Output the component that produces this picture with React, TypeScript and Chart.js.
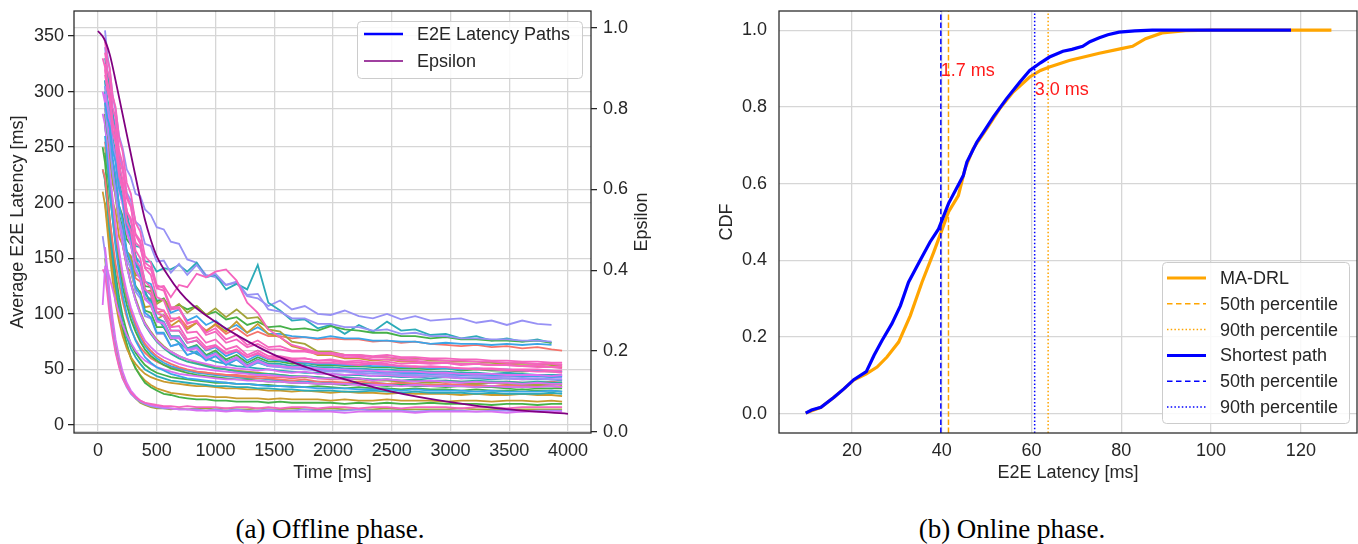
import React, { useEffect, useRef } from 'react';
import { Chart, registerables } from 'chart.js';

Chart.register(...registerables);

const FONT = '"Liberation Sans", Arial, Helvetica, sans-serif';
const TEXT = '#262626';
const GRID = '#d6d6d6';

// ================= (a) Offline phase =================
const TIME_MS = [40, 60, 80, 100, 125, 150, 180, 210, 245, 280, 320, 360, 400, 450, 500, 560, 620, 690, 760, 840, 920, 1000, 1090, 1180, 1270, 1360, 1450, 1550, 1650, 1760, 1870, 1980, 2100, 2220, 2340, 2460, 2580, 2700, 2830, 2960, 3090, 3220, 3350, 3480, 3610, 3740, 3860, 3950];

// upper outlier paths
const LAT_A1 = [null, 355, 333, 320, 296, 283, 260, 249, 230, 223, 208, 206, 194, 189, 178, 176, 165, 163, 149, 146, 135, 133, 126, 128, 116, 114, 107, 112, 104, 107, 100, 99, 103, 98, 96, 100, 95, 98, 94, 95, 96, 92, 94, 90, 94, 91, 90, null];
const LAT_A2 = [null, 305, 288, 275, 250, 238, 214, 203, 184, 178, 161, 160, 147, 147, 138, 141, 140, 144, 138, 146, 133, 135, 122, 127, 122, 144, 110, 103, 94, 95, 87, 90, 82, 90, 84, 93, 85, 86, 81, 82, 78, 80, 76, 78, 75, 77, 74, null];
const LAT_A3 = [null, 320, 302, 292, 264, 254, 226, 216, 192, 186, 164, 160, 142, 140, 124, 125, 115, 126, 124, 136, 133, 138, 140, 130, 110, 101, 86, 79, 72, 69, 65, 64, 61, 61, 59, 59, 58, 58, 56, 56, 55, 55, 54, 54, 53, 52, 52, 51];
const LAT_A4 = [null, 290, 270, 258, 233, 222, 197, 188, 167, 162, 143, 140, 125, 124, 111, 114, 104, 108, 104, 107, 99, 102, 95, 97, 90, 93, 88, 89, 86, 87, 85, 89, 86, 85, 83, 83, 80, 80, 78, 79, 77, 77, 76, 76, 75, 76, 74, null];
const LAT_A5 = [null, 310, 291, 280, 252, 240, 212, 202, 179, 171, 151, 146, 129, 127, 112, 113, 101, 104, 94, 98, 90, 94, 86, 90, 83, 88, 82, 82, 80, 79, 78, 80, 78, 78, 76, 76, 75, 75, 73, 74, 73, 73, 72, 73, 72, 73, 72, null];
const LAT_A6 = [null, 280, 260, 247, 221, 210, 185, 176, 155, 150, 132, 129, 114, 114, 101, 103, 93, 97, 88, 92, 85, 90, 82, 87, 80, 84, 80, 80, 78, 79, 77, 78, 77, 77, 75, 76, 74, 75, 73, 72, 71, 72, 70, 71, 69, 70, 68, 67];
const LAT_A7 = [null, 340, 319, 307, 281, 268, 242, 232, 209, 202, 183, 179, 163, 161, 147, 148, 137, 145, 135, 144, 133, 136, 126, 129, 117, 118, 104, 102, 96, 96, 91, 91, 88, 88, 85, 86, 82, 83, 80, 80, 78, 78, 77, 77, 76, 76, 75, null];
const LAT_A8 = [null, 270, 251, 241, 217, 207, 184, 176, 156, 152, 135, 134, 120, 121, 109, 113, 104, 109, 101, 107, 99, 105, 97, 104, 96, 97, 86, 84, 75, 73, 66, 66, 63, 63, 61, 61, 59, 60, 58, 58, 57, 57, 56, 55, 55, 55, 54, 54];
const LAT_A9 = [null, 250, 232, 223, 201, 192, 169, 162, 142, 138, 121, 120, 106, 107, 95, 99, 89, 94, 86, 92, 84, 91, 84, 93, 83, 91, 82, 79, 71, 68, 63, 63, 60, 60, 58, 59, 57, 57, 56, 56, 55, 55, 54, 55, 53, 53, 52, 52];

// dense band paths
const LAT_B1 = [330, 322, 302, 294, 266, 254, 224, 211, 183, 174, 148, 142, 122, 118, 101, 98, 85, 85, 74, 76, 68, 71, 64, 67, 61, 64, 60, 61, 59, 60, 58, 59, 57, 58, 56, 57, 55, 56, 55, 56, 54, 55, 54, 54, 53, 54, 52, 53];
const LAT_B2 = [300, 290, 272, 252, 230, 207, 184, 162, 143, 127, 112, 100, 91, 83, 76, 70, 66, 62, 59, 57, 55, 53, 52, 51, 50, 49, 50, 48, 47, 48, 46, 46, 45, 46, 44, 45, 44, 43, 44, 43, 42, 43, 42, 42, 41, 42, 41, 41];
const LAT_B3 = [null, 300, 281, 268, 240, 225, 197, 183, 157, 146, 124, 117, 101, 97, 83, 83, 71, 73, 63, 66, 58, 62, 54, 59, 52, 56, 53, 53, 51, 52, 50, 50, 49, 49, 48, 48, 47, 47, 46, 47, 45, 46, 45, 45, 44, 44, 43, 44];
const LAT_B4 = [250, 236, 212, 186, 160, 136, 115, 98, 84, 73, 65, 59, 54, 50, 47, 45, 43, 42, 41, 40, 39, 38, 38, 37, 37, 36, 36, 35, 35, 34, 35, 34, 33, 34, 33, 33, 32, 33, 32, 32, 31, 32, 31, 31, 32, 31, 31, 30];
const LAT_B5 = [null, 310, 293, 283, 258, 245, 218, 204, 179, 168, 145, 136, 118, 112, 96, 93, 80, 80, 69, 71, 62, 65, 57, 61, 54, 59, 55, 55, 53, 54, 52, 52, 51, 51, 50, 50, 49, 49, 48, 48, 47, 47, 46, 47, 46, 45, 45, 45];
const LAT_B6 = [230, 222, 204, 185, 164, 145, 127, 111, 97, 86, 77, 70, 65, 60, 57, 54, 52, 50, 49, 48, 47, 46, 45, 45, 44, 44, 43, 43, 42, 43, 42, 41, 41, 42, 40, 41, 40, 40, 39, 40, 39, 39, 38, 39, 38, 38, 39, 38];
const LAT_B7 = [null, 345, 329, 321, 296, 286, 258, 246, 218, 208, 182, 174, 152, 146, 126, 123, 106, 106, 92, 93, 81, 84, 74, 77, 70, 73, 68, 68, 66, 66, 64, 65, 63, 63, 62, 63, 61, 61, 60, 60, 59, 59, 58, 58, 57, 57, 56, 56];
const LAT_B8 = [null, 285, 265, 253, 226, 212, 186, 173, 150, 140, 120, 114, 98, 96, 82, 82, 71, 73, 63, 66, 58, 62, 54, 59, 52, 57, 53, 52, 51, 51, 50, 49, 49, 48, 48, 47, 47, 46, 46, 45, 45, 45, 44, 44, 43, 44, 43, 43];
const LAT_B9 = [210, 198, 176, 153, 130, 110, 93, 80, 69, 61, 55, 50, 46, 43, 41, 39, 38, 37, 36, 35, 35, 34, 33, 33, 32, 32, 31, 31, 30, 31, 30, 29, 30, 29, 29, 28, 29, 28, 28, 28, 27, 28, 27, 27, 28, 27, 27, 26];
const LAT_B10 = [null, 300, 280, 258, 234, 210, 186, 164, 144, 127, 112, 100, 90, 82, 75, 69, 64, 60, 57, 55, 53, 51, 50, 48, 47, 46, 46, 45, 44, 44, 43, 42, 43, 42, 41, 41, 40, 41, 40, 40, 39, 40, 39, 39, 38, 39, 38, 38];
const LAT_B11 = [null, 325, 309, 299, 273, 262, 233, 221, 193, 183, 157, 150, 129, 124, 105, 103, 88, 89, 77, 79, 70, 72, 65, 68, 61, 65, 60, 59, 58, 57, 56, 56, 55, 54, 55, 54, 53, 52, 53, 52, 51, 51, 51, 50, 50, 50, 49, 49];
const LAT_B12 = [280, 270, 250, 228, 204, 180, 157, 137, 120, 106, 94, 84, 76, 70, 65, 61, 58, 55, 53, 51, 50, 49, 48, 47, 46, 45, 45, 44, 43, 44, 42, 42, 41, 42, 40, 41, 40, 39, 40, 39, 38, 39, 38, 38, 37, 38, 37, 37];
const LAT_B13 = [null, 270, 248, 224, 198, 174, 151, 131, 114, 100, 88, 78, 71, 65, 60, 56, 53, 51, 49, 47, 46, 45, 44, 43, 42, 42, 41, 40, 40, 39, 39, 38, 38, 37, 38, 37, 36, 37, 36, 36, 35, 36, 35, 35, 36, 35, 35, 34];
const LAT_B14 = [null, 245, 228, 208, 186, 164, 143, 124, 108, 95, 84, 75, 68, 62, 58, 54, 51, 49, 47, 45, 44, 43, 42, 41, 41, 40, 39, 39, 38, 38, 37, 37, 36, 37, 36, 35, 36, 35, 35, 34, 35, 34, 34, 33, 34, 33, 33, 33];
const LAT_B15 = [null, 335, 319, 311, 286, 276, 247, 235, 207, 197, 171, 163, 141, 135, 115, 112, 96, 96, 83, 84, 74, 77, 68, 71, 63, 67, 62, 62, 60, 60, 58, 58, 56, 56, 55, 55, 53, 53, 52, 52, 51, 50, 50, 49, 49, 48, 48, 47];
const LAT_B16 = [null, 285, 268, 248, 226, 204, 182, 162, 144, 128, 114, 102, 92, 84, 77, 71, 66, 62, 59, 56, 54, 52, 50, 49, 48, 47, 46, 45, 44, 43, 43, 42, 41, 41, 40, 40, 39, 39, 38, 39, 38, 37, 38, 37, 37, 36, 37, 36];
const LAT_B17 = [null, 255, 238, 218, 196, 174, 153, 134, 117, 103, 91, 81, 73, 67, 62, 58, 55, 52, 50, 48, 47, 46, 45, 44, 43, 42, 42, 41, 40, 41, 39, 39, 38, 39, 38, 37, 38, 37, 36, 37, 36, 36, 35, 36, 35, 35, 35, 34];
const LAT_B18 = [null, 305, 289, 279, 254, 241, 214, 200, 175, 163, 140, 132, 114, 109, 94, 92, 79, 79, 68, 70, 61, 64, 56, 60, 52, 57, 53, 52, 51, 50, 49, 48, 48, 47, 46, 46, 45, 45, 44, 44, 43, 43, 43, 42, 42, 42, 41, 41];
const LAT_B19 = [230, 220, 198, 174, 150, 128, 108, 92, 79, 69, 61, 55, 50, 47, 44, 42, 40, 39, 38, 37, 36, 35, 35, 34, 34, 33, 33, 32, 32, 31, 31, 31, 30, 30, 31, 30, 29, 30, 29, 29, 29, 28, 29, 28, 28, 28, 29, 28];
const LAT_B20 = [108, 142, 140, 132, 122, 111, 100, 90, 81, 74, 67, 62, 58, 55, 52, 50, 48, 46, 45, 44, 43, 42, 41, 41, 40, 40, 39, 39, 38, 38, 37, 37, 37, 36, 36, 36, 35, 36, 35, 35, 35, 34, 35, 34, 34, 34, 35, 34];
const LAT_B21 = [null, 315, 302, 295, 272, 264, 238, 229, 204, 196, 172, 166, 146, 142, 123, 121, 104, 105, 91, 94, 83, 87, 77, 81, 72, 76, 70, 71, 67, 67, 65, 64, 63, 62, 61, 61, 60, 59, 59, 58, 58, 57, 57, 56, 56, 55, 55, 54];
const LAT_B22 = [null, 298, 282, 273, 249, 237, 211, 198, 173, 162, 139, 131, 113, 108, 93, 91, 78, 78, 67, 69, 60, 64, 56, 61, 53, 58, 54, 53, 52, 52, 51, 50, 50, 49, 49, 48, 48, 48, 47, 47, 46, 46, 46, 45, 45, 45, 44, 45];
const LAT_B23 = [null, 290, 276, 269, 247, 237, 213, 202, 179, 169, 147, 140, 122, 117, 101, 98, 85, 85, 74, 76, 67, 70, 62, 66, 58, 63, 59, 58, 57, 56, 55, 55, 54, 54, 53, 53, 52, 52, 51, 51, 50, 51, 50, 50, 49, 49, 49, 48];
const LAT_B24 = [null, 260, 238, 212, 185, 160, 137, 117, 100, 87, 76, 68, 61, 56, 52, 49, 46, 44, 42, 41, 40, 39, 38, 37, 37, 36, 35, 35, 34, 34, 33, 33, 33, 32, 32, 32, 31, 32, 31, 31, 31, 30, 31, 30, 30, 30, 31, 30];
const LAT_B25 = [null, 280, 263, 253, 228, 215, 189, 177, 154, 145, 125, 119, 103, 101, 88, 88, 77, 79, 69, 72, 63, 67, 59, 63, 56, 61, 57, 57, 55, 56, 54, 54, 53, 53, 52, 52, 51, 51, 50, 51, 49, 50, 49, 49, 48, 49, 48, 48];
const LAT_B26 = [null, 330, 316, 300, 280, 259, 236, 214, 192, 172, 153, 136, 121, 108, 97, 88, 80, 74, 68, 64, 60, 57, 55, 53, 52, 51, 50, 49, 48, 47, 47, 46, 45, 45, 44, 44, 43, 43, 42, 43, 42, 42, 41, 42, 41, 41, 41, 40];

// low paths
const LAT_C1 = [null, 200, 182, 162, 140, 120, 101, 85, 71, 60, 51, 45, 40, 36, 33, 31, 29, 28, 27, 26, 26, 25, 25, 24, 24, 24, 23, 24, 23, 23, 23, 22, 23, 22, 22, 23, 22, 22, 22, 21, 22, 22, 21, 22, 22, 21, 22, 21];
const LAT_C2 = [null, 220, 198, 175, 150, 127, 106, 88, 73, 61, 51, 44, 38, 34, 31, 28, 27, 25, 24, 23, 23, 22, 22, 21, 21, 21, 20, 21, 20, 20, 20, 20, 19, 20, 19, 20, 19, 19, 20, 19, 19, 19, 18, 19, 19, 18, 19, 19];
const LAT_C3 = [140, 136, 118, 98, 80, 65, 52, 42, 35, 29, 25, 22, 20, 19, 18, 17, 17, 16, 17, 16, 16, 16, 15, 16, 16, 15, 16, 15, 16, 16, 15, 16, 16, 15, 16, 16, 15, 16, 16, 16, 15, 16, 16, 15, 16, 16, 16, 16];
const LAT_C4 = [170, 155, 130, 106, 85, 67, 53, 42, 34, 28, 24, 21, 19, 17, 16, 15, 15, 14, 14, 14, 13, 14, 13, 14, 13, 13, 14, 13, 13, 14, 13, 13, 13, 14, 13, 13, 13, 12, 13, 13, 13, 12, 13, 13, 12, 13, 13, 13];
const LAT_C5 = [null, 150, 130, 110, 90, 72, 57, 45, 36, 29, 24, 20, 18, 16, 15, 15, 14, 15, 14, 15, 15, 14, 15, 14, 14, 15, 14, 14, 15, 14, 14, 15, 14, 14, 14, 15, 14, 14, 14, 14, 15, 14, 14, 14, 14, 14, 14, 14];
const LAT_C6 = [null, 160, 140, 118, 96, 77, 61, 48, 38, 31, 26, 22, 20, 18, 17, 16, 15, 14, 14, 13, 13, 13, 12, 13, 12, 12, 13, 12, 12, 12, 12, 12, 11, 12, 12, 12, 12, 11, 12, 12, 12, 12, 12, 11, 12, 12, 12, 12];

// drawing order: first = bottom
const LATENCY_SERIES = [
  LAT_A1, LAT_A2, LAT_A6, LAT_A5, LAT_A4, LAT_A7, LAT_A8, LAT_A9,
  LAT_C1, LAT_C2, LAT_C5, LAT_C4, LAT_C6, LAT_C3,
  LAT_B4, LAT_B9, LAT_B19, LAT_B6, LAT_B13, LAT_B14, LAT_B17, LAT_B16, LAT_B10, LAT_B12,
  LAT_B25, LAT_B26, LAT_B2, LAT_B8, LAT_B3, LAT_B5, LAT_B18, LAT_B22, LAT_B23,
  LAT_A3, LAT_B20, LAT_B1, LAT_B11, LAT_B15, LAT_B21, LAT_B7, LAT_B24,
];

const C_SALMON = '#F5736B';
const C_MUSTARD = '#C99A2E';
const C_OLIVE = '#A3A43A';
const C_GREEN = '#45B048';
const C_TEALGREEN = '#30B09A';
const C_TEAL = '#2CABB8';
const C_BLUE = '#3BA5E8';
const C_LAVENDER = '#9791F5';
const C_VIOLET = '#D970F2';
const C_PINK = '#F565BE';

const LATENCY_COLORS = [
  C_LAVENDER, C_TEAL, C_SALMON, C_BLUE, C_GREEN, C_LAVENDER, C_OLIVE, C_MUSTARD,
  C_MUSTARD, C_GREEN, C_OLIVE, C_LAVENDER, C_VIOLET, C_PINK,
  C_GREEN, C_MUSTARD, C_TEAL, C_SALMON, C_BLUE, C_GREEN, C_SALMON, C_OLIVE, C_TEALGREEN, C_VIOLET,
  C_GREEN, C_TEAL, C_VIOLET, C_LAVENDER, C_BLUE, C_TEAL, C_LAVENDER, C_VIOLET, C_BLUE,
  C_PINK, C_VIOLET, C_PINK, C_PINK, C_PINK, C_PINK, C_PINK, C_BLUE,
];

const EPS_TIME = [0, 50, 100, 150, 200, 250, 300, 350, 400, 450, 500, 600, 700, 800, 1000, 1200, 1500, 1800, 2000, 2500, 3000, 3500, 4000];
const EPS_VALUES = [0.993, 0.975, 0.935, 0.87, 0.80, 0.73, 0.66, 0.59, 0.525, 0.475, 0.435, 0.385, 0.345, 0.315, 0.272, 0.236, 0.19, 0.157, 0.138, 0.099, 0.073, 0.055, 0.044];

const TIME_TICKS = [0, 500, 1000, 1500, 2000, 2500, 3000, 3500, 4000];
const LAT_TICKS = [0, 50, 100, 150, 200, 250, 300, 350];
const EPS_TICKS = [0, 0.2, 0.4, 0.6, 0.8, 1.0];
const LEFT_LEGEND = ['E2E Latency Paths', 'Epsilon'];

// ================= (b) Online phase =================
const SP_LAT = [9.7, 11, 13.1, 16.0, 18.2, 20.4, 23.2, 24.9, 26.7, 28.9, 30.8, 32.6, 35.2, 37.4, 39.3, 41.5, 44.8, 45.6, 47.8, 49.3, 51.5, 54.4, 57.4, 59.6, 62, 64.0, 67.0, 69, 71.4, 73, 75.1, 77, 79.5, 83, 86.9, 95, 105, 117.8];
const SP_CDF = [0.002, 0.01, 0.017, 0.043, 0.065, 0.089, 0.110, 0.152, 0.191, 0.235, 0.282, 0.343, 0.40, 0.448, 0.482, 0.548, 0.621, 0.656, 0.708, 0.734, 0.774, 0.821, 0.865, 0.895, 0.915, 0.93, 0.945, 0.95, 0.958, 0.97, 0.98, 0.988, 0.995, 0.998, 1.0, 1.0, 1.0, 1.0];
const MA_LAT = [9.7, 13.1, 16.0, 18.2, 20.4, 23.2, 25.6, 27.8, 30.4, 33.0, 35.6, 38.2, 39.6, 41.5, 43.7, 45.2, 47.0, 50.0, 52.9, 55.9, 59.6, 62, 64, 68.4, 75.1, 80, 82.5, 85.4, 89.1, 94.3, 100.1, 110, 126.8];
const MA_CDF = [0.002, 0.017, 0.043, 0.065, 0.088, 0.104, 0.122, 0.148, 0.187, 0.256, 0.343, 0.421, 0.465, 0.526, 0.569, 0.639, 0.691, 0.743, 0.795, 0.839, 0.878, 0.895, 0.904, 0.921, 0.94, 0.952, 0.958, 0.978, 0.993, 0.999, 1.0, 1.0, 1.0];
const MA_P50 = 41.5;
const MA_P90 = 63.7;
const SP_P50 = 39.8;
const SP_P90 = 60.7;
const GAP_LABELS = ['1.7 ms', '3.0 ms'];
const GAP_LABEL_Y = [0.88, 0.83];
const LAT_CDF_TICKS = [20, 40, 60, 80, 100, 120];
const CDF_TICKS = [0, 0.2, 0.4, 0.6, 0.8, 1.0];
const RIGHT_LEGEND = ['MA-DRL', '50th percentile', '90th percentile', 'Shortest path', '50th percentile', '90th percentile'];

const C_ORANGE = '#FFA500';
const C_PURE_BLUE = '#0000FF';
const C_EPS = '#800080';

// ================= helpers =================
const font18 = { family: FONT, size: 18 };

function fixedTicks(values: number[]) {
  return (scale: any) => {
    scale.ticks = values.map((v) => ({ value: v }));
  };
}

function fitVertical(width: number) {
  return (s: any) => {
    s.width = width;
    s.paddingTop = 0;
    s.paddingBottom = 0;
  };
}

function fitHorizontal(height: number) {
  return (s: any) => {
    s.height = height;
    s.paddingLeft = 0;
    s.paddingRight = 0;
  };
}

type LegendItem = { label: string; color: string; width: number; dash: number[] };

function drawLegend(ctx: CanvasRenderingContext2D, x: number, y: number, w: number, h: number, items: LegendItem[], firstRow: number, rowGap: number, lineX0: number, lineX1: number, textX: number) {
  ctx.save();
  ctx.beginPath();
  (ctx as any).roundRect(x + 0.5, y + 0.5, w, h, 4);
  ctx.fillStyle = 'rgba(255,255,255,0.85)';
  ctx.fill();
  ctx.strokeStyle = '#cccccc';
  ctx.lineWidth = 1;
  ctx.stroke();
  items.forEach((it, i) => {
    const ry = y + firstRow + i * rowGap;
    ctx.beginPath();
    ctx.setLineDash(it.dash);
    ctx.strokeStyle = it.color;
    ctx.lineWidth = it.width;
    ctx.moveTo(x + lineX0, ry);
    ctx.lineTo(x + lineX1, ry);
    ctx.stroke();
    ctx.setLineDash([]);
    ctx.fillStyle = TEXT;
    ctx.font = `18px ${FONT}`;
    ctx.textAlign = 'left';
    ctx.textBaseline = 'middle';
    ctx.fillText(it.label, x + textX, ry + 1);
  });
  ctx.restore();
}

function drawFrame(chart: any) {
  const { ctx, chartArea: a } = chart;
  ctx.save();
  ctx.strokeStyle = TEXT;
  ctx.lineWidth = 1.25;
  ctx.strokeRect(a.left, a.top, a.right - a.left, a.bottom - a.top);
  ctx.restore();
}

const leftPlugin = {
  id: 'leftDecor',
  afterDatasetsDraw(chart: any) {
    drawFrame(chart);
    const { ctx, chartArea: a } = chart;
    ctx.save();
    ctx.translate(a.right + 51, (a.top + a.bottom) / 2);
    ctx.rotate(-Math.PI / 2);
    ctx.fillStyle = TEXT;
    ctx.font = `18px ${FONT}`;
    ctx.textAlign = 'center';
    ctx.textBaseline = 'middle';
    ctx.fillText('Epsilon', 0, 0);
    ctx.restore();
    const w = 225, h = 57;
    drawLegend(ctx, a.right - 9 - w, a.top + 10, w, h, [
      { label: LEFT_LEGEND[0], color: C_PURE_BLUE, width: 2.6, dash: [] },
      { label: LEFT_LEGEND[1], color: C_EPS, width: 1.6, dash: [] },
    ], 13, 27, 7, 46, 60);
  },
};

const rightPlugin = {
  id: 'rightDecor',
  afterDatasetsDraw(chart: any) {
    drawFrame(chart);
    const { ctx, chartArea: a, scales } = chart;
    ctx.save();
    ctx.fillStyle = '#FF1A1A';
    ctx.font = `18px ${FONT}`;
    ctx.textAlign = 'left';
    ctx.textBaseline = 'alphabetic';
    ctx.fillText(GAP_LABELS[0], scales.x.getPixelForValue(SP_P50), scales.y.getPixelForValue(GAP_LABEL_Y[0]));
    ctx.fillText(GAP_LABELS[1], scales.x.getPixelForValue(SP_P90), scales.y.getPixelForValue(GAP_LABEL_Y[1]));
    ctx.restore();
    const w = 187, h = 161;
    drawLegend(ctx, a.right - 8 - w, a.bottom - 10 - h, w, h, [
      { label: RIGHT_LEGEND[0], color: C_ORANGE, width: 3, dash: [] },
      { label: RIGHT_LEGEND[1], color: C_ORANGE, width: 1.5, dash: [5.5, 3.5] },
      { label: RIGHT_LEGEND[2], color: C_ORANGE, width: 1.5, dash: [1.5, 2.2] },
      { label: RIGHT_LEGEND[3], color: C_PURE_BLUE, width: 3, dash: [] },
      { label: RIGHT_LEGEND[4], color: C_PURE_BLUE, width: 1.5, dash: [5.5, 3.5] },
      { label: RIGHT_LEGEND[5], color: C_PURE_BLUE, width: 1.5, dash: [1.5, 2.2] },
    ], 16, 25.8, 5, 44, 58);
  },
};

function leftConfig(): any {
  const n = LATENCY_SERIES.length;
  const latSets = LATENCY_SERIES.map((vals, i) => ({
    data: TIME_MS.map((t, j) => ({ x: t, y: vals[j] })),
    borderColor: LATENCY_COLORS[i],
    borderWidth: 1.8,
    pointRadius: 0,
    tension: 0,
    yAxisID: 'y',
    order: n - i + 1,
  }));
  const epsSet = {
    data: EPS_TIME.map((t, j) => ({ x: t, y: EPS_VALUES[j] })),
    borderColor: C_EPS,
    borderWidth: 1.8,
    pointRadius: 0,
    cubicInterpolationMode: 'monotone',
    yAxisID: 'y2',
    order: 0,
  };
  return {
    type: 'line',
    data: { datasets: [...latSets, epsSet] },
    options: {
      animation: false,
      responsive: false,
      devicePixelRatio: 1,
      layout: { padding: { top: 11, left: 0, right: 0, bottom: 0 } },
      plugins: { legend: { display: false }, tooltip: { enabled: false } },
      scales: {
        x: {
          type: 'linear', position: 'bottom', min: -204, max: 4196,
          afterBuildTicks: fixedTicks(TIME_TICKS),
          afterFit: fitHorizontal(67),
          ticks: { font: font18, color: TEXT, padding: 7, maxRotation: 0, callback: (v: number) => String(v) },
          grid: { color: GRID, lineWidth: 1.3, drawTicks: false },
          border: { display: false },
          title: { display: true, text: 'Time [ms]', font: font18, color: TEXT, padding: { top: 0, bottom: 16 } },
        },
        y: {
          type: 'linear', position: 'left', min: -7.2, max: 372.5,
          afterBuildTicks: fixedTicks(LAT_TICKS),
          afterFit: fitVertical(74),
          ticks: { font: font18, color: TEXT, padding: 4, callback: (v: number) => String(v) },
          grid: { color: GRID, lineWidth: 1.3, drawTicks: true, tickLength: 6, tickColor: TEXT, tickWidth: 1.25 },
          border: { display: false },
          title: { display: true, text: 'Average E2E Latency [ms]', font: font18, color: TEXT, padding: { top: 7, bottom: 0 } },
        },
        y2: {
          type: 'linear', position: 'right', min: -0.0035, max: 1.0425,
          afterBuildTicks: fixedTicks(EPS_TICKS),
          afterFit: fitVertical(89),
          ticks: { font: font18, color: TEXT, padding: 6, callback: (v: number) => v.toFixed(1) },
          grid: { color: GRID, lineWidth: 1.3, drawTicks: true, tickLength: 6, tickColor: TEXT, tickWidth: 1.25 },
          border: { display: false },
        },
      },
    },
    plugins: [leftPlugin],
  };
}

function rightConfig(): any {
  const vline = (x: number) => [{ x, y: -0.05 }, { x, y: 1.05 }];
  const sets = [
    { data: MA_LAT.map((x, i) => ({ x, y: MA_CDF[i] })), borderColor: C_ORANGE, borderWidth: 3.2, dash: [] },
    { data: vline(MA_P50), borderColor: C_ORANGE, borderWidth: 1.5, dash: [5.5, 2.6] },
    { data: vline(MA_P90), borderColor: C_ORANGE, borderWidth: 1.5, dash: [1.5, 2.2] },
    { data: SP_LAT.map((x, i) => ({ x, y: SP_CDF[i] })), borderColor: C_PURE_BLUE, borderWidth: 3.2, dash: [] },
    { data: vline(SP_P50), borderColor: C_PURE_BLUE, borderWidth: 1.5, dash: [5.5, 2.6] },
    { data: vline(SP_P90), borderColor: C_PURE_BLUE, borderWidth: 1.5, dash: [1.5, 2.2] },
  ].map((d, i) => ({
    data: d.data,
    borderColor: d.borderColor,
    borderWidth: d.borderWidth,
    borderDash: d.dash,
    pointRadius: 0,
    tension: 0,
    borderCapStyle: 'butt',
    order: 10 - i,
  }));
  return {
    type: 'line',
    data: { datasets: sets },
    options: {
      animation: false,
      responsive: false,
      devicePixelRatio: 1,
      layout: { padding: { top: 11, left: 0, right: 1, bottom: 0 } },
      plugins: { legend: { display: false }, tooltip: { enabled: false } },
      scales: {
        x: {
          type: 'linear', position: 'bottom', min: 3.75, max: 132.5,
          afterBuildTicks: fixedTicks(LAT_CDF_TICKS),
          afterFit: fitHorizontal(67),
          ticks: { font: font18, color: TEXT, padding: 7, maxRotation: 0, callback: (v: number) => String(v) },
          grid: { color: GRID, lineWidth: 1.3, drawTicks: false },
          border: { display: false },
          title: { display: true, text: 'E2E Latency [ms]', font: font18, color: TEXT, padding: { top: 0, bottom: 16 } },
        },
        y: {
          type: 'linear', position: 'left', min: -0.05, max: 1.05,
          afterBuildTicks: fixedTicks(CDF_TICKS),
          afterFit: fitVertical(79),
          ticks: { font: font18, color: TEXT, padding: 12, callback: (v: number) => v.toFixed(1) },
          grid: { color: GRID, lineWidth: 1.3, drawTicks: false },
          border: { display: false },
          title: { display: true, text: 'CDF', font: font18, color: TEXT, padding: { top: 16, bottom: 0 } },
        },
      },
    },
    plugins: [rightPlugin],
  };
}

const captionStyle = (cx: number): React.CSSProperties => ({
  position: 'absolute',
  left: cx - 200,
  width: 400,
  top: 514,
  textAlign: 'center',
  fontFamily: '"Liberation Serif", "Times New Roman", serif',
  fontSize: 27,
  color: '#000',
  lineHeight: '30px',
});

export default function App() {
  const leftRef = useRef<HTMLCanvasElement>(null);
  const rightRef = useRef<HTMLCanvasElement>(null);
  useEffect(() => {
    const c1 = new Chart(leftRef.current as HTMLCanvasElement, leftConfig());
    const c2 = new Chart(rightRef.current as HTMLCanvasElement, rightConfig());
    return () => {
      c1.destroy();
      c2.destroy();
    };
  }, []);
  return (
    <div style={{ position: 'absolute', left: 0, top: 0, width: 1358, height: 544, background: '#fff' }}>
      <canvas ref={leftRef} width={680} height={500} style={{ position: 'absolute', left: 0, top: 0, width: 680, height: 500 }} />
      <canvas ref={rightRef} width={658} height={500} style={{ position: 'absolute', left: 700, top: 0, width: 658, height: 500 }} />
      <div style={captionStyle(330)}>(a) Offline phase.</div>
      <div style={captionStyle(1012)}>(b) Online phase.</div>
    </div>
  );
}
